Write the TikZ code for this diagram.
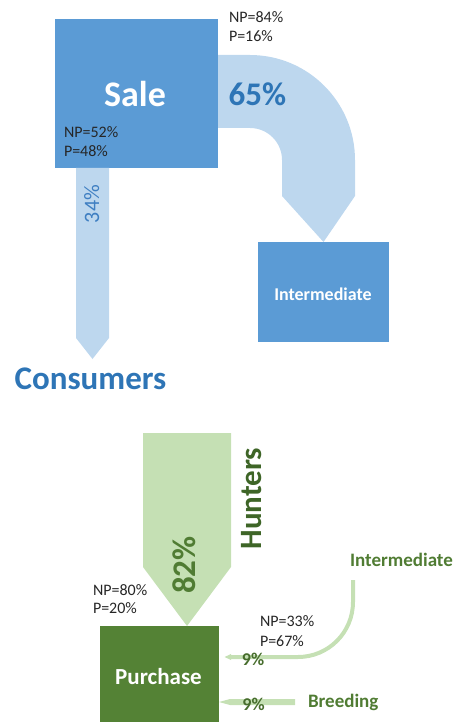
\documentclass[tikz,border=0pt]{standalone}
\usepackage{fontspec}
\setmainfont{Carlito}
\usetikzlibrary{arrows.meta}
\definecolor{boxblue}{HTML}{5B9BD5}
\definecolor{lightblue}{HTML}{BDD7EE}
\definecolor{textblue}{HTML}{2E75B6}
\definecolor{midblue}{HTML}{3F7FC2}
\definecolor{darkgreen}{HTML}{548235}
\definecolor{lightgreen}{HTML}{C5E0B4}
\definecolor{textgreen}{HTML}{507C33}
\definecolor{ninegreen}{HTML}{476D2D}
\definecolor{huntgreen}{HTML}{3E6527}
\definecolor{smalltext}{HTML}{262626}
\begin{document}
\begin{tikzpicture}[x=1pt,y=-1pt,
  every node/.style={inner sep=0pt, outer sep=0pt},
  bluebox/.style={fill=boxblue, draw=none},
  greenbox/.style={fill=darkgreen, draw=none},
  small/.style={font=\fontsize{16}{19}\selectfont, text=smalltext, anchor=base west},
  bigblue/.style={font=\fontsize{33}{38}\selectfont\bfseries, text=textblue},
  greenlbl/.style={font=\fontsize{19}{22}\selectfont\bfseries, text=textgreen},
  ninelbl/.style={font=\fontsize{18}{21}\selectfont\bfseries, text=ninegreen},
  thinflow/.style={draw=lightgreen, line width=4pt, -{Triangle[length=12pt,width=4pt]}}]
\useasboundingbox (0,0) rectangle (464,722);

% ---------- top (blue) ----------
\node[bluebox, minimum width=163pt, minimum height=149pt] (sale) at (136.5,93.5) {};
\node[bluebox, minimum width=131pt, minimum height=100pt] (inter) at (323.5,292) {};

% 65% curved flow
\fill[lightblue] (sale.east |- 0,55) -- (250,55)
  .. controls (308,55) and (355,102) .. (355,160)
  -- (355,196) -- (inter.north) -- (282,196) -- (282,160)
  .. controls (282,142.3) and (267.7,128) .. (250,128)
  -- (sale.east |- 0,128) -- cycle;

% 34% flow
\fill[lightblue] (76,0 |- sale.south) -- (109,0 |- sale.south) -- (109,338) -- (92.5,359) -- (76,338) -- cycle;

\node[font=\fontsize{36}{40}\selectfont\bfseries, text=white] (saletxt) at (135,94.5) {Sale};
\node[font=\fontsize{18}{21}\selectfont\bfseries, text=white] (intertxt) at (323,294.5) {Intermediate};
\node[bigblue] (p65) at (257.5,94.5) {65\%};
\node[bigblue] (consumers) at (90.5,378.5) {Consumers};
\node[font=\fontsize{22}{26}\selectfont, text=midblue, rotate=90] (p34) at (91.7,204) {34\%};

\node[small] (np84) at (229,23) {NP=84\%};
\node[small] (p16) at (229,42) {P=16\%};
\node[small] (np52) at (64,138) {NP=52\%};
\node[small] (p48) at (64,157) {P=48\%};

% ---------- bottom (green) ----------
\node[greenbox, minimum width=119pt, minimum height=96pt] (purchase) at (159.5,674) {};

% 82% flow
\fill[lightgreen] (143,433) -- (231,433) -- (231,567) -- (purchase.north -| 187,0) -- (143,567) -- cycle;

% Intermediate -> Purchase (9%)
\node[greenlbl] (intergreen) at (401.5,560) {Intermediate};
\coordinate (interstart) at (353,580);
\coordinate (interend) at (purchase.east |- 0,657);
\draw[thinflow] (interstart) -- (353,602)
  .. controls (353,632.4) and (328.4,657) .. (298,657) -- (interend);

% Breeding -> Purchase (9%)
\node[greenlbl, anchor=base west] (breeding) at (308,707) {Breeding};
\coordinate (breedtip) at (purchase.east |- 0,702);
\fill[lightgreen] (295,699) -- (230,699) -- (breedtip) -- (230,705) -- (295,705) -- cycle;

\node[font=\fontsize{23}{27}\selectfont\bfseries, text=white] (purchtxt) at (158.5,677) {Purchase};
\node[font=\fontsize{33}{38}\selectfont\bfseries, text=textgreen, rotate=90] (p82) at (184,565) {82\%};
\node[font=\fontsize{31}{36}\selectfont\bfseries, text=huntgreen, rotate=90] (hunters) at (251.5,498.5) {Hunters};
\node[ninelbl] (p9a) at (253,659) {9\%};
\node[ninelbl] (p9b) at (253.5,704) {9\%};

\node[small] (np80) at (93,595) {NP=80\%};
\node[small] (p20) at (93,613) {P=20\%};
\node[small] (np33) at (260,626) {NP=33\%};
\node[small] (p67) at (260,646) {P=67\%};
\end{tikzpicture}
\end{document}
